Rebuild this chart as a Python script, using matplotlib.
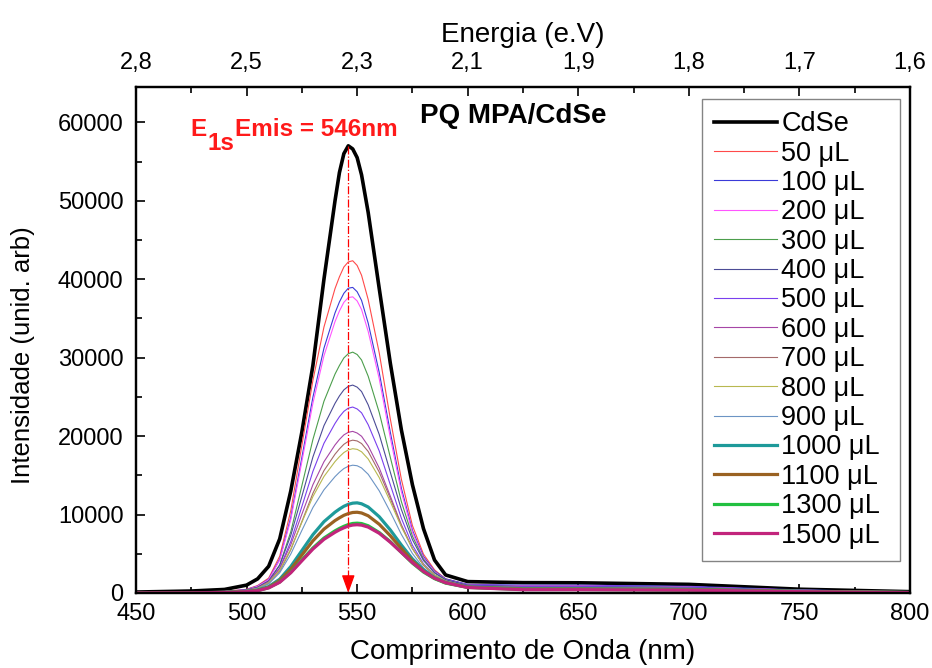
import matplotlib
matplotlib.use("Agg")
import matplotlib.pyplot as plt
from matplotlib.ticker import MultipleLocator, FixedLocator
from matplotlib.transforms import offset_copy

plt.rcParams['font.family'] = ['Liberation Sans', 'DejaVu Sans']

# ---------------- data ----------------
wavelength = [450, 475, 490, 500, 505, 510, 515, 520, 525, 530, 535, 540, 542, 544, 546,
              548, 550, 552, 555, 560, 565, 570, 575, 580, 585, 590, 600, 625, 650, 700, 750, 800]

labels = ['CdSe', '50 μL', '100 μL', '200 μL', '300 μL', '400 μL', '500 μL', '600 μL',
          '700 μL', '800 μL', '900 μL', '1000 μL', '1100 μL', '1300 μL', '1500 μL']

cdse = [120, 250, 450, 1000, 1800, 3400, 6900, 13000, 20500, 29000, 40000, 50000, 53600, 56000, 57000,
        56600, 55500, 53300, 48500, 38800, 29300, 20800, 13800, 8200, 4200, 2300, 1450, 1320, 1300, 1100, 480, 170]
s50 = [80, 140, 210, 470, 950, 1900, 4700, 10500, 18800, 27100, 33900, 38800, 40300, 41550, 42200,
       42350, 41750, 40500, 37400, 30600, 22200, 14500, 8600, 4950, 2950, 1800, 1050, 900, 900, 765, 360, 110]
s100 = [80, 130, 200, 430, 880, 1750, 4330, 9650, 17260, 24960, 31200, 35700, 37100, 38200, 38850,
        38950, 38400, 37300, 34400, 28100, 20500, 13350, 8000, 4650, 2800, 1800, 1100, 1000, 1000, 850, 400, 120]
s200 = [80, 130, 190, 415, 850, 1700, 4200, 9350, 16730, 24190, 30240, 34590, 35950, 37050, 37650,
        37750, 37230, 36140, 33340, 27300, 19800, 12900, 7750, 4450, 2700, 1700, 1030, 900, 900, 765, 360, 110]
s300 = [60, 100, 175, 360, 740, 1500, 3580, 7800, 13660, 19560, 24440, 27900, 29000, 29960, 30500,
        30700, 30400, 29700, 27630, 23000, 17300, 11650, 7250, 4300, 2580, 1670, 960, 800, 800, 680, 320, 100]
s400 = [55, 80, 170, 390, 720, 1540, 3550, 7340, 12300, 17330, 21330, 24170, 25120, 25890, 26340,
        26500, 26240, 25680, 23980, 20200, 15400, 10650, 6800, 4140, 2570, 1680, 1000, 850, 850, 720, 340, 100]
s500 = [50, 70, 150, 345, 640, 1375, 3180, 6560, 11010, 15500, 19080, 21610, 22470, 23150, 23560,
        23700, 23460, 22970, 21450, 18100, 13800, 9530, 6100, 3730, 2330, 1530, 930, 800, 800, 680, 320, 100]
s600 = [45, 65, 125, 345, 620, 1400, 3140, 6140, 10030, 13800, 16730, 18870, 19570, 20150, 20480,
        20600, 20390, 19980, 18750, 15930, 12350, 8700, 5680, 3550, 2230, 1480, 860, 700, 700, 595, 280, 85]
s700 = [45, 60, 120, 310, 565, 1210, 2750, 5500, 9090, 12710, 15600, 17690, 18370, 18950, 19320,
        19480, 19380, 19050, 18040, 15400, 12060, 8560, 5660, 3540, 2240, 1510, 870, 700, 700, 595, 280, 85]
s800 = [40, 55, 118, 330, 590, 1330, 2910, 5600, 9000, 12290, 14850, 16750, 17370, 17900, 18240,
        18390, 18310, 18000, 17080, 14700, 11650, 8420, 5660, 3610, 2300, 1540, 845, 650, 650, 550, 260, 80]
s900 = [35, 50, 105, 295, 520, 1170, 2575, 4960, 7970, 10890, 13150, 14830, 15390, 15860, 16150,
        16290, 16220, 15940, 15130, 13020, 10330, 7470, 5030, 3210, 2050, 1390, 770, 600, 600, 510, 240, 72]
s1000 = [25, 35, 75, 207, 370, 815, 1760, 3370, 5400, 7430, 9090, 10300, 10700, 11050, 11300,
         11450, 11490, 11370, 10960, 9720, 8040, 6110, 4340, 2950, 1950, 1350, 765, 550, 550, 470, 220, 66]
s1100 = [22, 32, 67, 185, 330, 730, 1576, 3020, 4830, 6650, 8140, 9230, 9580, 9900, 10120,
         10260, 10290, 10200, 9840, 8760, 7300, 5660, 4080, 2800, 1880, 1310, 735, 500, 500, 425, 200, 60]
s1300 = [18, 27, 60, 175, 300, 670, 1400, 2640, 4200, 5730, 7000, 7920, 8230, 8500, 8720,
         8860, 8900, 8850, 8570, 7700, 6540, 5170, 3810, 2670, 1830, 1260, 710, 450, 450, 380, 180, 55]
s1500 = [17, 26, 58, 170, 296, 650, 1366, 2580, 4100, 5600, 6840, 7740, 8050, 8310, 8530,
         8660, 8700, 8650, 8400, 7610, 6470, 5180, 3870, 2750, 1880, 1310, 700, 420, 420, 360, 170, 50]

series = [cdse, s50, s100, s200, s300, s400, s500, s600, s700, s800, s900, s1000, s1100, s1300, s1500]

colors = ['#000000', '#ff4a4a', '#3a3ad8', '#ff55ff', '#4c9e4c', '#4c4c96', '#7a40ee', '#a646a6',
          '#a46a6a', '#b8b850', '#6c94c4', '#1e9a9a', '#9a6222', '#22c040', '#c2247c']
widths = [2.6, 0.8, 0.8, 0.8, 0.8, 0.8, 0.8, 0.8, 0.8, 0.8, 0.8, 2.3, 2.3, 2.3, 2.3]

bottom_ticks = [450, 500, 550, 600, 650, 700, 750, 800]
top_tick_labels = ['2,8', '2,5', '2,3', '2,1', '1,9', '1,8', '1,7', '1,6']
peak_nm = 546
peak_int = 57000

# ---------------- figure ----------------
fig = plt.figure(figsize=(9.32, 6.68), dpi=100)
ax = fig.add_axes([0.1459, 0.1123, 0.8305, 0.7575])

for y, lab, c, lw in zip(series, labels, colors, widths):
    ax.plot(wavelength, y, color=c, lw=lw, label=lab, solid_joinstyle='round')

ax.set_xlim(450, 800)
ax.set_ylim(0, 64500)
ax.xaxis.set_major_locator(FixedLocator(bottom_ticks))
ax.xaxis.set_minor_locator(MultipleLocator(25))
ax.yaxis.set_major_locator(MultipleLocator(10000))
ax.yaxis.set_minor_locator(MultipleLocator(5000))
ax.tick_params(which='both', direction='in', labelsize=17, width=1.2)
ax.tick_params(which='major', length=6.5)
ax.tick_params(which='minor', length=4)
ax.tick_params(axis='x', which='major', pad=7)
ax.tick_params(axis='y', which='major', pad=9)
ax.tick_params(axis='y', right=False)
for sp in ax.spines.values():
    sp.set_linewidth(1.6)

ax.set_xlabel('Comprimento de Onda (nm)', fontsize=20, labelpad=10)
ax.set_ylabel('Intensidade (unid. arb)', fontsize=18.5)
ax.yaxis.set_label_coords(-0.131, 0.470)

ax2 = ax.twiny()
ax2.set_xlim(ax.get_xlim())
ax2.xaxis.set_major_locator(FixedLocator(bottom_ticks))
ax2.set_xticklabels(top_tick_labels)
ax2.xaxis.set_minor_locator(MultipleLocator(25))
ax2.tick_params(which='both', direction='in', labelsize=17, width=1.2)
ax2.tick_params(which='major', length=6.5, pad=9.5)
ax2.tick_params(which='minor', length=4)
ax2.set_xlabel('Energia (e.V)', fontsize=20, labelpad=7)
for sp in ax2.spines.values():
    sp.set_linewidth(1.6)

# peak marker
ax.plot([peak_nm, peak_nm], [peak_int, 1800], color='red', lw=0.9, ls='-.')
ax.annotate('', xy=(peak_nm, 0), xytext=(peak_nm, 2200),
            arrowprops=dict(arrowstyle='-|>,head_length=1.1,head_width=0.4', color='red',
                            lw=0.9, shrinkA=0, shrinkB=0))

# annotation E_1s Emis = 546nm
x0, y0 = 474.5, 58300
afs = 17.5
t1 = ax.text(x0, y0, 'E', color='#ff1a1a', fontsize=afs, fontweight='bold', va='baseline')
fig.canvas.draw()
r = fig.canvas.get_renderer()
w1 = t1.get_window_extent(r).width
t2 = ax.text(x0, y0, '1s', color='#ff1a1a', fontsize=afs, fontweight='bold', va='baseline',
             transform=offset_copy(ax.transData, fig=fig, x=w1 + 1, y=-14, units='dots'))
w2 = t2.get_window_extent(r).width
ax.text(x0, y0, 'Emis = 546nm', color='#ff1a1a', fontsize=afs, fontweight='bold', va='baseline',
        transform=offset_copy(ax.transData, fig=fig, x=w1 + w2 + 2, y=0, units='dots'))

ax.text(0.3669, 0.943, 'PQ MPA/CdSe', transform=ax.transAxes, fontsize=20, fontweight='bold',
        va='center', ha='left')

leg = ax.legend(loc='upper left', bbox_to_anchor=(0.7313, 0.9763, 0.2558, 0.0), mode='expand',
                borderaxespad=0, fontsize=19.5, handlelength=2.3, handletextpad=0.18,
                labelspacing=0.125, frameon=True, fancybox=False, edgecolor='#666666',
                borderpad=0.45)
leg.get_frame().set_linewidth(1.0)

fig.savefig('out.png', dpi=100)
